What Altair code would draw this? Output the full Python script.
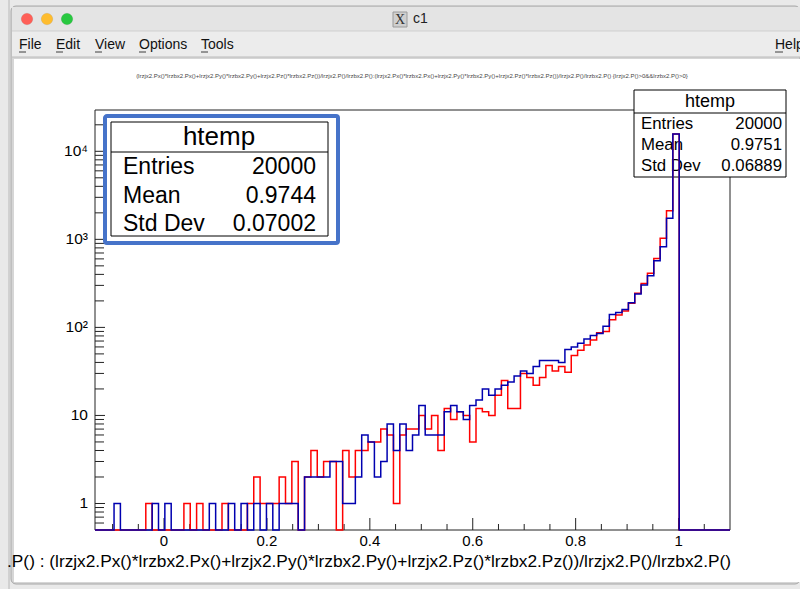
import altair as alt
import pandas as pd

# ---------------- data ----------------
XMIN, XMAX, NBINS = -0.1342, 1.1, 100
YMIN, YMAX = 0.5, 29450

red_counts = [
    0, 0, 0, 0, 0, 0, 0, 0, 1, 0,
    0, 0, 0, 0, 1, 0, 1, 0, 0, 0,
    1, 0, 0, 0, 1, 2, 1, 1, 1, 2,
    1, 3, 0, 2, 4, 2, 3, 3, 0, 4,
    2, 4, 4, 5, 5, 7, 6, 1, 6, 7,
    7, 10, 7, 10, 4, 12, 9, 11, 10, 5,
    12, 11, 10, 17, 25, 12, 12, 30, 27, 22,
    27, 37, 32, 36, 31, 48, 55, 63, 72, 87,
    90, 122, 138, 154, 188, 245, 315, 411, 608, 1026,
    2113, 15700, 0, 0, 0, 0, 0, 0, 0, 0,
]
blue_counts = [
    0, 0, 0, 1, 0, 0, 0, 0, 0, 1,
    0, 1, 0, 0, 0, 0, 0, 0, 1, 0,
    0, 1, 0, 1, 0, 1, 0, 1, 0, 1,
    1, 1, 0, 2, 2, 2, 2, 3, 3, 1,
    1, 2, 6, 5, 2, 3, 8, 4, 8, 4,
    6, 13, 6, 6, 6, 11, 13, 11, 9, 13,
    15, 20, 17, 20, 22, 24, 28, 32, 30, 36,
    42, 42, 42, 40, 56, 60, 66, 74, 81, 85,
    103, 140, 148, 160, 190, 240, 303, 386, 571, 824,
    1733, 15700, 0, 0, 0, 0, 0, 0, 0, 0,
]

xtick_major = [0, 0.2, 0.4, 0.6, 0.8, 1.0]
xtick_labels = ["0", "0.2", "0.4", "0.6", "0.8", "1"]
xtick_minor = [-0.10, -0.05, 0.05, 0.10, 0.15, 0.25, 0.30, 0.35, 0.45, 0.50,
               0.55, 0.65, 0.70, 0.75, 0.85, 0.90, 0.95, 1.05]
ytick_major = [1, 10, 100, 1000, 10000]
ytick_labels = ["1", "10", "10\u00b2", "10\u00b3", "10\u2074"]
ytick_minor = [m * 10 ** e for e in range(-1, 5) for m in range(2, 10)
               if YMIN < m * 10 ** e < YMAX]

stats_left = ["htemp", "Entries", "20000", "Mean", "0.9744", "Std Dev", "0.07002"]
stats_right = ["htemp", "Entries", "20000", "Mean", "0.9751", "Std Dev", "0.06889"]

x_title = (".P() : (lrzjx2.Px()*lrzbx2.Px()+lrzjx2.Py()*lrzbx2.Py()"
           "+lrzjx2.Pz()*lrzbx2.Pz())/lrzjx2.P()/lrzbx2.P()")
tiny_title = ("(lrzjx2.Px()*lrzbx2.Px()+lrzjx2.Py()*lrzbx2.Py()+lrzjx2.Pz()*lrzbx2.Pz())"
              "/lrzjx2.P()/lrzbx2.P():(lrzjx2.Px()*lrzbx2.Px()+lrzjx2.Py()*lrzbx2.Py()"
              "+lrzjx2.Pz()*lrzbx2.Pz())/lrzjx2.P()/lrzbx2.P() {lrzjx2.P()>0&&lrzbx2.P()>0}")
menu_items = ["File", "Edit", "View", "Options", "Tools"]

# ---------------- build tables ----------------
W = (XMAX - XMIN) / NBINS
edges = [XMIN + k * W for k in range(NBINS + 1)]


def step_table(counts):
    xs = edges[:]
    vs = [max(c, YMIN) for c in counts] + [YMIN]
    return pd.DataFrame({"x": xs, "v": vs})


red_df = step_table(red_counts)
blue_df = step_table(blue_counts)

FONT = "Liberation Sans"
OX, OY = 95, 110
PW, PH = 635, 420
one = pd.DataFrame({"k": [0]})

xscale = alt.Scale(domain=[XMIN, XMAX], nice=False, zero=False)
yscale = alt.Scale(type="log", domain=[YMIN, YMAX], nice=False)


def R(x1, y1, x2, y2, **kw):
    return alt.Chart(one).mark_rect(**kw).encode(
        x=alt.value(x1 - OX), x2=alt.value(x2 - OX),
        y=alt.value(y1 - OY), y2=alt.value(y2 - OY))


def T(txt, x, y, size=15, align="left", color="black", font=FONT):
    return alt.Chart(one).mark_text(
        text=txt, align=align, baseline="middle", font=font,
        fontSize=size, color=color).encode(
        x=alt.value(x - OX), y=alt.value(y - OY))


def L(x1, y1, x2, y2, color="black", w=1.0):
    return alt.Chart(one).mark_rule(color=color, strokeWidth=w).encode(
        x=alt.value(x1 - OX), x2=alt.value(x2 - OX),
        y=alt.value(y1 - OY), y2=alt.value(y2 - OY))


def C(x, y, color):
    return alt.Chart(one).mark_circle(size=135, color=color, opacity=1,
                                      stroke="#00000022", strokeWidth=0.5).encode(
        x=alt.value(x - OX), y=alt.value(y - OY))


layers = []
# window chrome
layers.append(R(0, 0, 800, 589, fill="#e9e9e9"))
layers.append(L(9, 0, 9, 589, color="#b8b8b8"))
layers.append(R(11, 6, 800, 584, fill="#d6d6d6", stroke="#a8a8a8", strokeWidth=1,
                cornerRadius=5))
layers.append(R(12, 7, 800, 31, fill="#e4e4e4"))
layers.append(R(12, 31, 800, 57, fill="#ececec"))
layers.append(L(12, 31, 800, 31, color="#cfcfcf"))
layers.append(L(12, 57, 800, 57, color="#bdbdbd"))
layers.append(R(14, 59, 800, 582, fill="white"))
layers.append(C(27, 19, "#fe5f57"))
layers.append(C(47, 19, "#febc2e"))
layers.append(C(67, 19, "#28c840"))
layers.append(R(393, 12, 407, 27, fill="#cfcfcf", stroke="#9a9a9a", strokeWidth=1))
layers.append(T("X", 400, 19.5, size=14, align="center", color="#333333",
                font="Liberation Serif"))
layers.append(T("c1", 413, 19, size=14, color="#222222"))
menu_x = [19, 56, 95, 139, 201]
for name, mx in zip(menu_items, menu_x):
    layers.append(T(name, mx, 45, size=14, color="#111111"))
    layers.append(L(mx, 52, mx + 7, 52, color="#111111", w=0.8))
layers.append(T("Help", 775, 45, size=14, color="#111111"))
layers.append(L(775, 52, 783, 52, color="#111111", w=0.8))

# tiny title
layers.append(T(tiny_title, 412, 76, size=6, align="center", color="#444444"))

# frame
layers.append(R(OX, OY, OX + PW, OY + PH, fill="transparent", stroke="#222222",
                strokeWidth=1))

# ticks
xt_major = pd.DataFrame({"v": xtick_major, "label": xtick_labels})
xt_minor = pd.DataFrame({"v": xtick_minor})
yt_major = pd.DataFrame({"v": ytick_major, "label": ytick_labels})
yt_minor = pd.DataFrame({"v": ytick_minor})

layers.append(alt.Chart(xt_major).mark_rule(color="#222222", strokeWidth=1).encode(
    x=alt.X("v:Q", scale=xscale, axis=None), y=alt.value(PH), y2=alt.value(PH - 12)))
layers.append(alt.Chart(xt_minor).mark_rule(color="#222222", strokeWidth=1).encode(
    x=alt.X("v:Q", scale=xscale, axis=None), y=alt.value(PH), y2=alt.value(PH - 6)))
layers.append(alt.Chart(yt_major).mark_rule(color="#222222", strokeWidth=1).encode(
    y=alt.Y("v:Q", scale=yscale, axis=None), x=alt.value(0), x2=alt.value(10)))
layers.append(alt.Chart(yt_minor).mark_rule(color="#222222", strokeWidth=1).encode(
    y=alt.Y("v:Q", scale=yscale, axis=None), x=alt.value(0), x2=alt.value(9)))

# tick labels
layers.append(alt.Chart(xt_major).mark_text(font=FONT, fontSize=15, color="black",
                                            baseline="middle", align="center").encode(
    x=alt.X("v:Q", scale=xscale, axis=None), y=alt.value(541 - OY), text="label:N"))
layers.append(alt.Chart(yt_major).mark_text(font=FONT, fontSize=15.5, color="black",
                                            baseline="middle", align="right").encode(
    y=alt.Y("v:Q", scale=yscale, axis=None), x=alt.value(88 - OX), text="label:N"))

# x axis title
layers.append(T(x_title, 731, 561.5, size=17.3, align="right"))

# right stats box (drawn before histograms)
layers.append(R(634, 90, 786, 177, fill="white", stroke="black", strokeWidth=1))
layers.append(L(634, 113, 786, 113))
layers.append(T(stats_right[0], 710, 102, size=18, align="center"))
for i, yy in enumerate([124, 145, 166]):
    layers.append(T(stats_right[1 + 2 * i], 641, yy, size=16.8))
    layers.append(T(stats_right[2 + 2 * i], 782, yy, size=16.8, align="right"))

# histograms
layers.append(alt.Chart(red_df).mark_line(interpolate="step-after", color="#ff0000",
                                          strokeWidth=1.5).encode(
    x=alt.X("x:Q", scale=xscale, axis=None), y=alt.Y("v:Q", scale=yscale, axis=None)))
layers.append(alt.Chart(blue_df).mark_line(interpolate="step-after", color="#0000b0",
                                           strokeWidth=1.5).encode(
    x=alt.X("x:Q", scale=xscale, axis=None), y=alt.Y("v:Q", scale=yscale, axis=None)))

# left stats box with blue highlight
layers.append(R(105, 116, 338, 243, fill="transparent", stroke="#4673c9",
                strokeWidth=4, cornerRadius=2))
layers.append(R(111, 122, 328, 236, fill="white", stroke="black", strokeWidth=1))
layers.append(L(111, 152, 328, 152))
layers.append(T(stats_left[0], 219, 137, size=26, align="center"))
for i, yy in enumerate([167, 196, 224]):
    layers.append(T(stats_left[1 + 2 * i], 123, yy, size=23))
    layers.append(T(stats_left[2 + 2 * i], 316, yy, size=23, align="right"))

chart = alt.layer(*layers).properties(
    width=PW, height=PH,
    autosize=alt.AutoSizeParams(type="none"),
    padding={"left": OX, "top": OY, "right": 800 - OX - PW, "bottom": 589 - OY - PH},
).configure_view(strokeWidth=0)

chart.save("out.html", embed_options={"renderer": "svg", "actions": False})
